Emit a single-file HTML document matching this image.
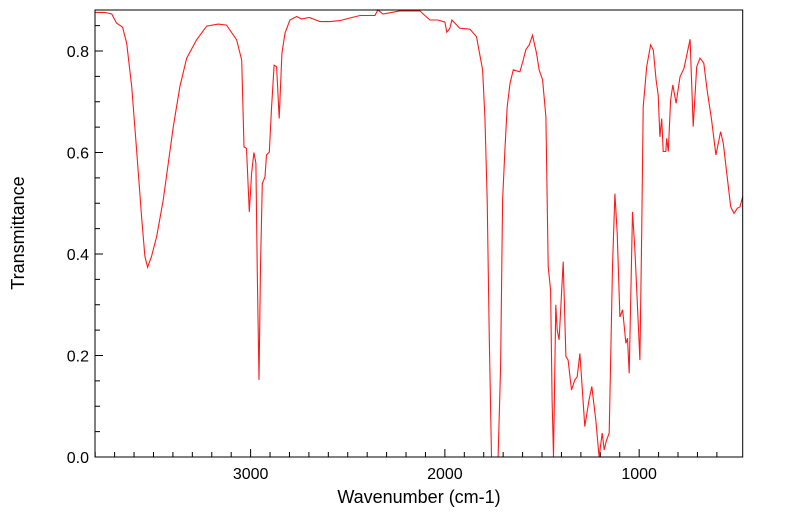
<!DOCTYPE html>
<html><head><meta charset="utf-8"><style>
html,body{margin:0;padding:0;background:#fff;}
svg{display:block;font-family:"Liberation Sans",sans-serif;}
</style></head><body>
<svg id="chart" width="799" height="516">
<g id="ticks"></g>
<g id="labels"></g>
<path id="line" fill="none" stroke="#ff1a1a" stroke-width="1.1"></path>
<rect x="95" y="10" width="647.7" height="447" fill="none" stroke="#000" stroke-width="1"></rect>
<text x="419" y="503" text-anchor="middle" font-size="18">Wavenumber (cm-1)</text>
<text transform="translate(24,233) rotate(-90)" text-anchor="middle" font-size="18">Transmittance</text>
</svg>
<script>
const wavenumbers=[3801,3750,3715,3690,3659,3638,3612,3587,3561,3544,3530,3510,3484,3450,3398,3364,3329,3278,3226,3167,3124,3072,3046,3034,3021,3007,2995,2983,2973,2966,2957,2949,2940,2926,2918,2904,2892,2879,2866,2853,2839,2823,2798,2763,2738,2698,2643,2592,2540,2489,2437,2360,2345,2319,2232,2129,2077,2036,2000,1990,1974,1964,1923,1871,1837,1806,1794,1782,1772,1760,1726,1713,1703,1691,1679,1665,1648,1614,1597,1583,1566,1549,1528,1515,1497,1480,1468,1456,1448,1441,1429,1422,1412,1391,1377,1366,1348,1331,1319,1305,1280,1258,1244,1223,1206,1190,1180,1168,1154,1137,1125,1113,1099,1085,1068,1060,1051,1034,1022,1010,996,987,979,961,941,927,913,902,893,884,876,863,858,850,838,827,810,790,769,738,722,704,687,667,650,627,605,581,567,547,529,512,495,481,467];
const transmittance=[0.876,0.876,0.873,0.855,0.847,0.815,0.73,0.605,0.473,0.395,0.374,0.395,0.434,0.506,0.651,0.73,0.786,0.822,0.849,0.853,0.851,0.822,0.782,0.611,0.608,0.483,0.559,0.600,0.579,0.375,0.152,0.375,0.539,0.552,0.595,0.601,0.690,0.772,0.769,0.667,0.795,0.835,0.861,0.868,0.863,0.866,0.858,0.858,0.860,0.865,0.870,0.870,0.881,0.873,0.879,0.879,0.861,0.861,0.857,0.837,0.845,0.861,0.845,0.843,0.828,0.763,0.670,0.506,0.244,0.0,0.0,0.178,0.506,0.605,0.690,0.736,0.763,0.759,0.782,0.803,0.812,0.831,0.795,0.763,0.743,0.670,0.375,0.329,0.112,0.0,0.300,0.250,0.231,0.385,0.198,0.191,0.132,0.152,0.158,0.204,0.060,0.112,0.139,0.073,0.0,0.047,0.014,0.033,0.047,0.375,0.519,0.441,0.276,0.290,0.224,0.234,0.165,0.483,0.408,0.309,0.191,0.441,0.690,0.769,0.812,0.802,0.743,0.713,0.631,0.667,0.602,0.602,0.628,0.602,0.703,0.733,0.697,0.749,0.766,0.823,0.651,0.769,0.786,0.776,0.723,0.664,0.595,0.641,0.618,0.552,0.493,0.480,0.490,0.493,0.513];
const xTickLabels=[3000,2000,1000];
const yTickLabels=["0.0","0.2","0.4","0.6","0.8"];
const yTickValues=[0,0.2,0.4,0.6,0.8];

const L=95,R=742.7,T=10,B=457;
const xMax=3801,xMin=467,yMin=0,yMax=0.8808;
function X(v){return L+(xMax-v)/(xMax-xMin)*(R-L);}
function Y(v){return B-(v-yMin)/(yMax-yMin)*(B-T);}
const NS="http://www.w3.org/2000/svg";
let d="";
for(let i=0;i<wavenumbers.length;i++){d+=(i?"L":"M")+X(wavenumbers[i]).toFixed(1)+","+Y(transmittance[i]).toFixed(1);}
document.getElementById("line").setAttribute("d",d);
const tg=document.getElementById("ticks"),lg=document.getElementById("labels");
function line(x1,y1,x2,y2){const l=document.createElementNS(NS,"line");l.setAttribute("x1",x1);l.setAttribute("y1",y1);l.setAttribute("x2",x2);l.setAttribute("y2",y2);l.setAttribute("stroke","#000");l.setAttribute("stroke-width","1");


tg.appendChild(l);}
for(let v=600;v<=3800;v+=100){const x=X(v);const major=v%1000===0;line(x,B,x,B-(major?8:5));}
for(let v=0;v<=0.86;v+=0.05){const y=Y(v);const major=Math.abs(v/0.2-Math.round(v/0.2))<1e-6;line(L,y,L+(major?8:5),y);}
xTickLabels.forEach(v=>{const t=document.createElementNS(NS,"text");t.setAttribute("x",X(v));t.setAttribute("y",B+22);t.setAttribute("text-anchor","middle");t.setAttribute("font-size","16");t.textContent=v;


lg.appendChild(t);});
yTickValues.forEach((v,i)=>{const t=document.createElementNS(NS,"text");t.setAttribute("x",L-6);t.setAttribute("y",Y(v)+6);t.setAttribute("text-anchor","end");t.setAttribute("font-size","16");t.textContent=yTickLabels[i];


lg.appendChild(t);});
</script>
</body></html>
